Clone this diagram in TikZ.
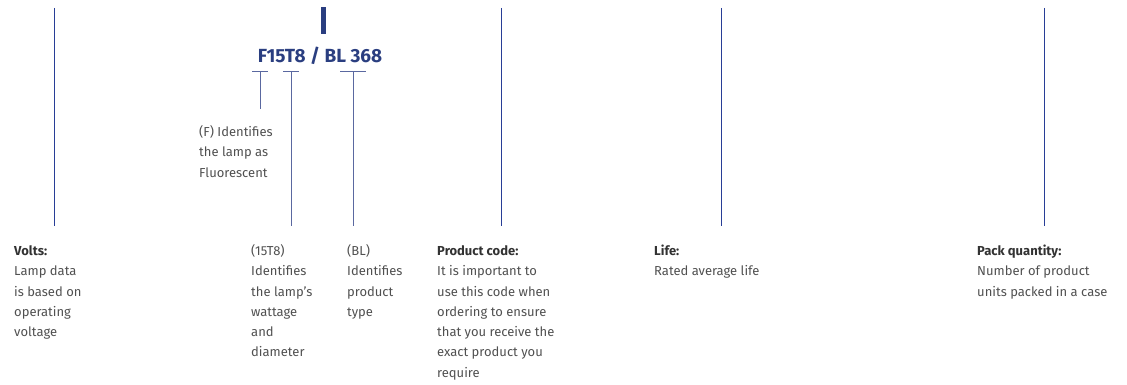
\documentclass[tikz,border=0pt]{standalone}
\usepackage{fontspec}
\setmainfont{Fira Sans}
\definecolor{lineblue}{RGB}{40,62,150}
\definecolor{tblue}{RGB}{90,104,160}
\definecolor{titleblue}{RGB}{42,62,128}
\definecolor{bodygray}{RGB}{80,80,80}
\definecolor{headgray}{RGB}{50,50,50}
\newcommand{\hd}[1]{{\bfseries\color{headgray}#1}}
\begin{document}
\begin{tikzpicture}[x=1pt,y=-1pt,
  vline/.style={draw=lineblue,line width=1pt},
  tbar/.style={draw=tblue,line width=1pt},
  body/.style={anchor=north west,inner sep=0pt,align=left,text=bodygray,
    font={\fontsize{13}{20.3}\selectfont}}]
\useasboundingbox (0,0) rectangle (1127,385);
% title
\node[anchor=base,inner sep=0pt,text=titleblue,font={\fontsize{19}{20}\selectfont\bfseries}] (title) at (320,63) {F15T8 / BL 368};
\fill[titleblue] (321,7) rectangle (325.5,34);
% main vertical lines
\foreach \n/\x in {v1/54,v2/501,v3/721,v4/1044}{
  \coordinate (\n t) at (\x,8);
  \coordinate (\n b) at (\x,226);
  \draw[vline] (\n t) -- (\n b);
}
% T markers
\coordinate (t1l) at (252,72); \coordinate (t1r) at (268,72);
\coordinate (t1t) at (260,72); \coordinate (t1b) at (260,109);
\coordinate (t2l) at (283,72); \coordinate (t2r) at (299,72);
\coordinate (t2t) at (291,72); \coordinate (t2b) at (291,226);
\coordinate (t3l) at (340,72); \coordinate (t3r) at (366,72);
\coordinate (t3t) at (353,72); \coordinate (t3b) at (353,226);
\draw[tbar] (t1l) -- (t1r); \draw[tbar] (t1t) -- (t1b);
\draw[tbar] (t2l) -- (t2r); \draw[tbar] (t2t) -- (t2b);
\draw[tbar] (t3l) -- (t3r); \draw[tbar] (t3t) -- (t3b);
% labels (first baseline = y + 14.2)
\node[body] (lf) at (199,122) {\strut(F) Identifies\\the lamp as\\Fluorescent};
\node[body] (volts) at (14,241) {\strut\hd{Volts:}\\Lamp data\\is based on\\operating\\voltage};
\node[body] (l15) at (251,241) {\strut(15T8)\\Identifies\\the lamp’s\\wattage\\and\\diameter};
\node[body] (lbl) at (347,241) {\strut(BL)\\Identifies\\product\\type};
\node[body] (pc) at (437,241) {\strut\hd{Product code:}\\It is important to\\use this code when\\ordering to ensure\\that you receive the\\exact product you\\require};
\node[body] (life) at (654,241) {\strut\hd{Life:}\\Rated average life};
\node[body] (pack) at (977,241) {\strut\hd{Pack quantity:}\\Number of product\\units packed in a case};
\end{tikzpicture}
\end{document}
